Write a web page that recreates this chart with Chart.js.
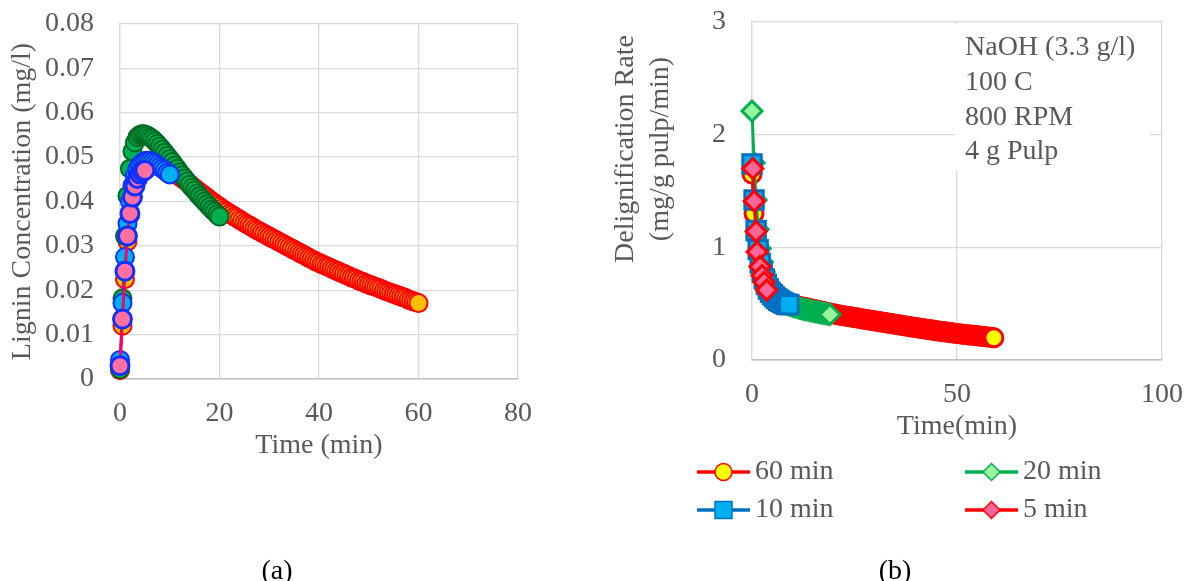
<!DOCTYPE html>
<html lang="en">
<head>
  <meta charset="UTF-8">
  <title>Lignin concentration and delignification rate</title>
  <script src="https://cdn.jsdelivr.net/npm/chart.js"></script>
  <style>
    body {
      margin: 0;
      background: #fff;
      width: 1185px;
      height: 581px;
      position: relative;
      overflow: hidden;
      font-family: 'Liberation Serif', 'Times New Roman', serif;
    }
    #chartA { position: absolute; left: 0; top: 0; }
    #chartB { position: absolute; left: 600px; top: 0; }
    .caption {
      position: absolute;
      top: 554px;
      width: 60px;
      font-size: 28px;
      line-height: 32px;
      text-align: center;
      color: #000;
    }
  </style>
</head>
<body>
  <canvas id="chartA" width="600" height="581"></canvas>
  <canvas id="chartB" width="585" height="581"></canvas>
  <div class="caption" style="left:247px">(a)</div>
  <div class="caption" style="left:865px">(b)</div>

  <script>
    const seriesLabels = ['60 min', '20 min', '10 min', '5 min'];

    // (a) lignin concentration, mg/l
    const aConc60 = [
      .0020, .0120, .0225, .0310, .0370, .0410, .0438, .0457, .0470, .0479,
      .0485, .0488, .0490, .0490, .0489, .0487, .0485, .0482, .0479, .0476,
      .0472, .0468, .0464, .0460, .0456, .0452, .0448, .0444, .0440, .0435,
      .0430, .0426, .0421, .0417, .0413, .0409, .0404, .0400, .0396, .0392,
      .0388, .0384, .0380, .0377, .0373, .0370, .0366, .0363, .0359, .0356,
      .0352, .0349, .0346, .0343, .0339, .0336, .0333, .0330, .0327, .0324,
      .0321, .0318, .0315, .0312, .0309, .0306, .0303, .0300, .0297, .0294,
      .0291, .0288, .0285, .0282, .0279, .0276, .0273, .0270, .0267, .0264,
      .0262, .0259, .0257, .0254, .0252, .0249, .0247, .0244, .0242, .0239,
      .0237, .0234, .0232, .0229, .0227, .0225, .0222, .0220, .0218, .0215,
      .0213, .0211, .0209, .0207, .0205, .0203, .0200, .0198, .0196, .0194,
      .0192, .0190, .0188, .0186, .0184, .0182, .0179, .0177, .0175, .0173,
      .0171
    ];
    const aConc20 = [
      .0022, .0182, .0322, .0413, .0474, .0513, .0533, .0545, .0550, .0552,
      .0551, .0549, .0545, .0541, .0536, .0530, .0524, .0517, .0510, .0503,
      .0496, .0489, .0481, .0474, .0466, .0459, .0452, .0445, .0438, .0431,
      .0425, .0418, .0412, .0406, .0400, .0394, .0388, .0382, .0377, .0371,
      .0366
    ];
    const aConc10 = [
      .0043, .0171, .0275, .0350, .0400, .0436, .0458, .0473, .0482, .0488,
      .0491, .0492, .0491, .0489, .0486, .0482, .0478, .0474, .0470, .0465,
      .0461
    ];
    const aConc5 = [.0030, .0135, .0243, .0322, .0373, .0410, .0435, .0452, .0462, .0467, .0470];

    // (b) delignification rate, mg/g pulp/min
    const bRate60 = [
      1.65, 1.30, 1.10, 0.96, 0.86, 0.79, 0.73, 0.69, 0.655, 0.625,
      0.600, 0.580, 0.565, 0.550, 0.538, 0.527, 0.518, 0.510, 0.503, 0.497,
      0.491, 0.486, 0.481, 0.477, 0.473, 0.469, 0.465, 0.461, 0.457, 0.453,
      0.449, 0.445, 0.441, 0.437, 0.433, 0.429, 0.425, 0.421, 0.417, 0.413,
      0.409, 0.405, 0.401, 0.398, 0.395, 0.392, 0.389, 0.386, 0.383, 0.380,
      0.377, 0.374, 0.371, 0.368, 0.365, 0.362, 0.359, 0.356, 0.353, 0.350,
      0.347, 0.344, 0.341, 0.338, 0.335, 0.332, 0.329, 0.326, 0.323, 0.320,
      0.317, 0.314, 0.311, 0.308, 0.305, 0.302, 0.299, 0.296, 0.293, 0.290,
      0.288, 0.285, 0.282, 0.279, 0.277, 0.274, 0.271, 0.268, 0.266, 0.263,
      0.260, 0.258, 0.255, 0.253, 0.250, 0.248, 0.245, 0.243, 0.240, 0.238,
      0.236, 0.234, 0.231, 0.229, 0.227, 0.225, 0.223, 0.221, 0.219, 0.217,
      0.215, 0.213, 0.211, 0.209, 0.207, 0.205, 0.203, 0.201,
      0.197
    ];
    const bRate20 = [
      2.21, 1.75, 1.42, 1.16, 0.99, 0.87, 0.78, 0.72, 0.67, 0.63,
      0.600, 0.575, 0.555, 0.540, 0.527, 0.515, 0.505, 0.497, 0.490, 0.483,
      0.477, 0.471, 0.466, 0.461, 0.456, 0.452, 0.448, 0.444, 0.440, 0.436,
      0.432, 0.428, 0.424, 0.421, 0.418, 0.414, 0.411, 0.407,
      0.404
    ];
    const bRate10 = [
      1.74, 1.42, 1.15, 0.98, 0.86, 0.78, 0.72, 0.67, 0.63, 0.60,
      0.58, 0.56, 0.545, 0.53, 0.52, 0.51, 0.50, 0.495, 0.49
    ];
    const bTime5 = [0.2, 0.55, 1, 1.25, 1.95, 2.45, 2.95, 3.6];
    const bRate5 = [1.70, 1.41, 1.14, 0.96, 0.83, 0.75, 0.69, 0.62];

    // axis ticks
    const aXTicks = [0, 20, 40, 60, 80];
    const aYTicks = [0, 0.01, 0.02, 0.03, 0.04, 0.05, 0.06, 0.07, 0.08];
    const bXTicks = [0, 50, 100];
    const bYTicks = [0, 1, 2, 3];

    const bNotes = ['NaOH (3.3 g/l)', '100 C', '800 RPM', '4 g Pulp'];

    // ---- helpers ----
    const TEXT = '#595959';
    const FAMILY = "'Liberation Serif', 'Times New Roman', serif";
    const FONT = { family: FAMILY, size: 28 };
    const FONT_CSS = '28px ' + FAMILY;

    // sample grid of the logged runs (half-minute intervals)
    function halfMinutes(count) {
      const t = [];
      for (let i = 0; i < count; i++) t.push(i / 2);
      return t;
    }
    function pts(times, values) {
      return values.map((v, i) => ({ x: times[i], y: v }));
    }

    // tick marks are kept but made invisible: their length pushes the labels
    // away from the axis without padding the plot area like ticks.padding does
    function axes(xTicks, yTicks, xTitle, yTitle, yWidth) {
      return {
        x: {
          type: 'linear',
          min: xTicks[0],
          max: xTicks[xTicks.length - 1],
          afterBuildTicks: s => { s.ticks = xTicks.map(v => ({ value: v })); },
          afterFit: s => { s.height = 83; },
          grid: { color: '#D9D9D9', lineWidth: 1.3, drawTicks: true, tickLength: 18, tickColor: 'rgba(0,0,0,0)' },
          border: { color: '#BFBFBF', width: 1.5 },
          ticks: { color: TEXT, font: FONT, padding: 0, autoSkip: false, maxRotation: 0, callback: v => String(v) },
          title: { display: true, text: xTitle, color: TEXT, font: FONT, padding: 0 }
        },
        y: {
          min: yTicks[0],
          max: yTicks[yTicks.length - 1],
          afterBuildTicks: s => { s.ticks = yTicks.map(v => ({ value: v })); },
          afterFit: s => { s.width = yWidth; },
          grid: { color: '#D9D9D9', lineWidth: 1.3, drawTicks: true, tickLength: 26, tickColor: 'rgba(0,0,0,0)' },
          border: { color: '#D9D9D9', width: 1.3 },
          ticks: { color: TEXT, font: FONT, padding: 0, autoSkip: false, callback: v => String(v) },
          title: { display: !!yTitle, text: yTitle || '', color: TEXT, font: FONT, padding: 0 }
        }
      };
    }

    function drawMarker(ctx, style, x, y, r) {
      ctx.beginPath();
      if (style === 'circle') {
        ctx.arc(x, y, r, 0, Math.PI * 2);
      } else if (style === 'rect') {
        const h = r * Math.SQRT1_2;
        ctx.rect(x - h, y - h, 2 * h, 2 * h);
      } else {
        ctx.moveTo(x - r, y);
        ctx.lineTo(x, y - r);
        ctx.lineTo(x + r, y);
        ctx.lineTo(x, y + r);
        ctx.closePath();
      }
      ctx.fill();
      ctx.stroke();
    }

    // ---- chart (a) ----
    new Chart(document.getElementById('chartA'), {
      type: 'line',
      data: {
        datasets: [
          { label: seriesLabels[0], data: pts(halfMinutes(aConc60.length), aConc60), order: 4,
            borderColor: '#FF0000', borderWidth: 2, pointBackgroundColor: '#FFC000', pointBorderColor: '#FF0000' },
          { label: seriesLabels[1], data: pts(halfMinutes(aConc20.length), aConc20), order: 3,
            borderColor: '#00A040', borderWidth: 2, pointBackgroundColor: '#00B050', pointBorderColor: '#006B24' },
          { label: seriesLabels[2], data: pts(halfMinutes(aConc10.length), aConc10), order: 2,
            borderColor: '#0033FF', borderWidth: 2, pointBackgroundColor: '#00B0F0', pointBorderColor: '#1030FF' },
          { label: seriesLabels[3], data: pts(halfMinutes(aConc5.length), aConc5), order: 1,
            borderColor: '#FF0066', borderWidth: 3, pointBackgroundColor: '#FF6F9F', pointBorderColor: '#1030FF' }
        ]
      },
      options: {
        responsive: false,
        animation: false,
        devicePixelRatio: 1,
        datasets: { line: { clip: false } },
        elements: { point: { radius: 9, borderWidth: 1.5, pointStyle: 'circle' }, line: { tension: 0 } },
        layout: { padding: { left: 6, top: 24, right: 82, bottom: 119 } },
        scales: axes(aXTicks, aYTicks, 'Time (min)', 'Lignin Concentration (mg/l)', 114),
        plugins: { legend: { display: false }, tooltip: { enabled: false } }
      }
    });

    // ---- chart (b) ----
    const bExtras = {
      id: 'bExtras',
      beforeDatasetsDraw(chart) {
        const ctx = chart.ctx;
        ctx.save();
        ctx.fillStyle = '#FFFFFF';
        ctx.fillRect(355, 24, 195, 147);
        ctx.fillStyle = TEXT;
        ctx.font = FONT_CSS;
        ctx.textAlign = 'left';
        ctx.textBaseline = 'middle';
        bNotes.forEach((line, i) => ctx.fillText(line, 365, 48 + i * 34.6));
        ctx.restore();
      },
      afterDraw(chart) {
        const ctx = chart.ctx;
        ctx.save();
        ctx.font = FONT_CSS;
        ctx.fillStyle = TEXT;
        ctx.textAlign = 'center';
        ctx.textBaseline = 'middle';
        // two-line y axis title
        [['Delignification Rate', 26], ['(mg/g pulp/min)', 61]].forEach(([txt, x]) => {
          ctx.save();
          ctx.translate(x, 149);
          ctx.rotate(-Math.PI / 2);
          ctx.fillText(txt, 0, 0);
          ctx.restore();
        });
        // legend: line + marker + label, two columns
        chart.data.datasets.forEach((ds, i) => {
          const x0 = i % 2 === 0 ? 97 : 365;
          const y = i < 2 ? 472 : 510;
          ctx.strokeStyle = ds.borderColor;
          ctx.lineWidth = 3.5;
          ctx.beginPath();
          ctx.moveTo(x0, y);
          ctx.lineTo(x0 + 53, y);
          ctx.stroke();
          ctx.fillStyle = ds.pointBackgroundColor;
          ctx.strokeStyle = ds.pointBorderColor;
          ctx.lineWidth = 1.5;
          drawMarker(ctx, ds.pointStyle, x0 + 26.5, y, ds.pointStyle === 'rect' ? 12 : 8.5);
          ctx.fillStyle = TEXT;
          ctx.textAlign = 'left';
          ctx.fillText(ds.label, x0 + 58, y);
        });
        ctx.restore();
      }
    };

    new Chart(document.getElementById('chartB'), {
      type: 'line',
      data: {
        datasets: [
          { label: seriesLabels[0], data: pts(halfMinutes(bRate60.length), bRate60), order: 4, pointStyle: 'circle', pointRadius: 9,
            borderColor: '#FF0000', borderWidth: 3, pointBackgroundColor: '#FFFF00', pointBorderColor: '#FF0000' },
          { label: seriesLabels[1], data: pts(halfMinutes(bRate20.length), bRate20), order: 3, pointStyle: 'rectRot', pointRadius: 10,
            borderColor: '#00B050', borderWidth: 3, pointBackgroundColor: '#99F599', pointBorderColor: '#00B050' },
          { label: seriesLabels[2], data: pts(halfMinutes(bRate10.length), bRate10), order: 2, pointStyle: 'rect', pointRadius: 13,
            borderColor: '#0070C0', borderWidth: 3, pointBackgroundColor: '#00B0F0', pointBorderColor: '#0070C0' },
          { label: seriesLabels[3], data: pts(bTime5, bRate5), order: 1, pointStyle: 'rectRot', pointRadius: 10,
            borderColor: '#FF0000', borderWidth: 3, pointBackgroundColor: '#FF6699', pointBorderColor: '#FF0000' }
        ]
      },
      options: {
        responsive: false,
        animation: false,
        devicePixelRatio: 1,
        datasets: { line: { clip: false } },
        elements: { point: { borderWidth: 1.5 }, line: { tension: 0 } },
        layout: { padding: { left: 0, top: 22, right: 23, bottom: 138 } },
        scales: axes(bXTicks, bYTicks, 'Time(min)', null, 152),
        plugins: { legend: { display: false }, tooltip: { enabled: false } }
      },
      plugins: [bExtras]
    });
  </script>
</body>
</html>
